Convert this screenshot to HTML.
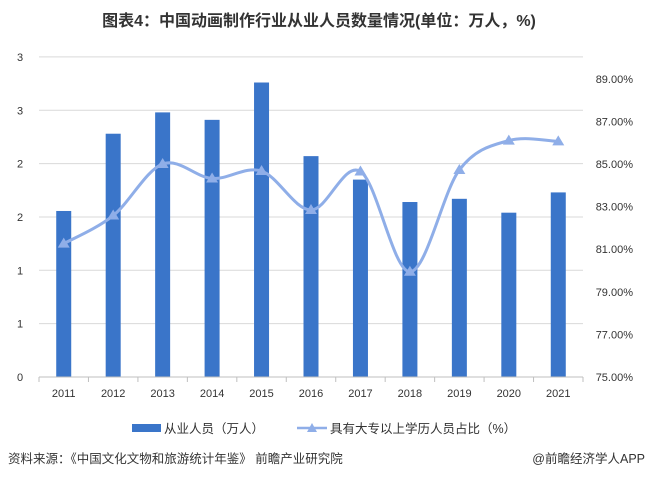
<!DOCTYPE html>
<html><head><meta charset="utf-8"><style>
body{margin:0;background:#fff;width:648px;height:478px;overflow:hidden;font-family:"Liberation Sans","Noto Sans CJK SC",sans-serif;}
svg text{font-family:"Liberation Sans","Noto Sans CJK SC",sans-serif;}
</style></head><body>
<svg id="chart" width="648" height="478">
<text x="319" y="26" text-anchor="middle" font-size="16" font-weight="bold" fill="#333">图表4：中国动画制作行业从业人员数量情况(单位：万人，%)</text>
<g id="grid"></g><g id="bars"></g><g id="line"></g><g id="axes"></g>
<g>
<rect x="132" y="424" width="29" height="8" fill="#3a75c9"/>
<text x="164" y="433" font-size="12.5" fill="#333">从业人员（万人）</text>
<line x1="297" y1="428" x2="327" y2="428" stroke="#8faee8" stroke-width="2.5"/>
<polygon points="312,423 317,432 307,432" fill="#8faee8"/>
<text x="330" y="433" font-size="12.5" fill="#333">具有大专以上学历人员占比（%）</text>
</g>
<text x="8" y="463" font-size="12.5" fill="#333">资料来源：《中国文化文物和旅游统计年鉴》 前瞻产业研究院</text>
<text x="645" y="463" text-anchor="end" font-size="12.5" fill="#333">@前瞻经济学人APP</text>
</svg>
<script>
const years=["2011","2012","2013","2014","2015","2016","2017","2018","2019","2020","2021"];
const workers=[1.556,2.28,2.48,2.41,2.76,2.07,1.85,1.64,1.67,1.54,1.73];
const ratio=[81.26,82.58,85.0,84.32,84.67,82.84,84.65,79.94,84.72,86.1,86.06];
const leftTicks=[0,0.5,1,1.5,2,2.5,3];
const leftTickLabels=["0","1","1","2","2","3","3"];
const rightTicks=[75,77,79,81,83,85,87,89];
const NS="http://www.w3.org/2000/svg";
const L=39,R=583,yBase=377;
const yL=v=>yBase-v*106.7;
const yR=v=>yBase-(v-75)*21.3;
const bw=(R-L)/years.length;
const xC=i=>L+bw*(i+0.5);
function mk(t,a,p){const e=document.createElementNS(NS,t);for(const k in a)e.setAttribute(k,a[k]);p.appendChild(e);return e;}
const grid=document.getElementById('grid'),axes=document.getElementById('axes');
leftTicks.forEach((t,i)=>{
 if(t>0){const g=mk('line',{x1:L,x2:R,y1:yL(t),y2:yL(t),stroke:'#d9d9d9','stroke-width':1},grid);
 
 }
 const tx=mk('text',{x:20,y:yL(t)+4,'font-size':11,fill:'#333','text-anchor':'middle'},axes);tx.textContent=leftTickLabels[i];
 
 
});
rightTicks.forEach(t=>{
 const tx=mk('text',{x:633,y:yR(t)+4,'font-size':11,fill:'#333','text-anchor':'end'},axes);tx.textContent=t.toFixed(2)+'%';
 
 
});
const ax=mk('line',{x1:L,x2:R,y1:yBase,y2:yBase,stroke:'#bfbfbf'},axes);


for(let i=0;i<=years.length;i++){mk('line',{x1:L+bw*i,x2:L+bw*i,y1:yBase,y2:yBase+5,stroke:'#bfbfbf'},axes);}
const bars=document.getElementById('bars');
years.forEach((y,i)=>{
 const b=mk('rect',{x:xC(i)-7.5,y:yL(workers[i]),width:15,height:yBase-yL(workers[i]),fill:'#3a75c9'},bars);
 
 
 const tx=mk('text',{x:xC(i),y:yBase+20,'font-size':11,fill:'#333','text-anchor':'middle'},axes);tx.textContent=y;
 
 
});
const pts=ratio.map((v,i)=>[xC(i),yR(v)]);
let d='M'+pts[0][0]+','+pts[0][1];
for(let i=0;i<pts.length-1;i++){
 const p0=pts[Math.max(i-1,0)],p1=pts[i],p2=pts[i+1],p3=pts[Math.min(i+2,pts.length-1)];
 const c1=[p1[0]+(p2[0]-p0[0])/6,p1[1]+(p2[1]-p0[1])/6],c2=[p2[0]-(p3[0]-p1[0])/6,p2[1]-(p3[1]-p1[1])/6];
 d+=' C'+c1+' '+c2+' '+p2;
}
const lg=document.getElementById('line');
const path=mk('path',{d:d,fill:'none',stroke:'#8faee8','stroke-width':3},lg);


pts.forEach((p,i)=>{
 const m=mk('polygon',{points:`${p[0]},${p[1]-6} ${p[0]+6},${p[1]+4} ${p[0]-6},${p[1]+4}`,fill:'#8faee8'},lg);
 
 
});
</script>
</body></html>
